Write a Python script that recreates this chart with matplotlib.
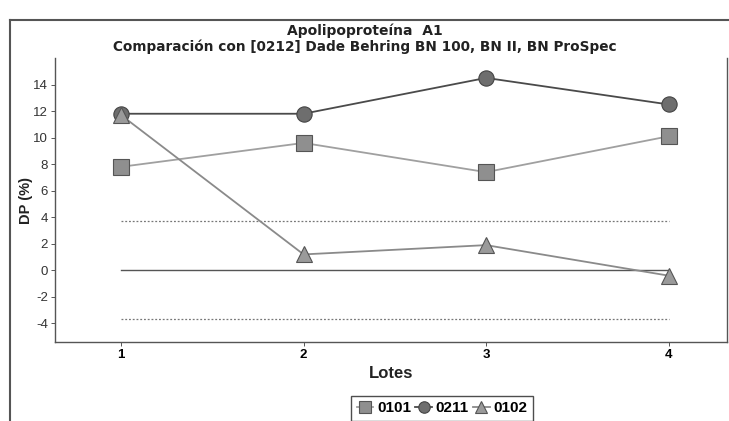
import matplotlib.pyplot as plt
from matplotlib.lines import Line2D

plt.rcParams["font.family"] = ["Liberation Sans", "DejaVu Sans"]

lotes = [1, 2, 3, 4]
dp_0101 = [7.8, 9.6, 7.4, 10.1]
dp_0211 = [11.8, 11.8, 14.5, 12.5]
dp_0102 = [11.7, 1.2, 1.9, -0.4]
limite = 3.7
yticks = [-4, -2, 0, 2, 4, 6, 8, 10, 12, 14]

fig = plt.figure(figsize=(7.29, 4.21), dpi=100)
ax = fig.add_axes([55 / 729, 1 - 342 / 421, 672 / 729, 284 / 421])

# reference lines
ax.plot([1, 4], [0, 0], color="#555555", lw=1.0, zorder=1)
ax.plot([1, 4], [limite, limite], color="#777777", lw=0.9, ls=(0, (1.5, 1.5)), zorder=1)
ax.plot([1, 4], [-limite, -limite], color="#777777", lw=0.9, ls=(0, (1.5, 1.5)), zorder=1)

ax.plot(lotes, dp_0101, color="#a0a0a0", lw=1.3, marker="s", ms=11,
        mfc="#8f8f8f", mec="#555555", mew=0.8, zorder=3, label="0101")
ax.plot(lotes, dp_0211, color="#4a4a4a", lw=1.3, marker="o", ms=11,
        mfc="#6e6e6e", mec="#444444", mew=0.8, zorder=4, label="0211")
ax.plot(lotes, dp_0102, color="#8a8a8a", lw=1.3, marker="^", ms=12,
        mfc="#9a9a9a", mec="#555555", mew=0.8, zorder=5, label="0102")

ax.set_xlim(0.638, 4.32)
ax.set_ylim(-5.4, 16.0)
ax.set_xticks(lotes)
ax.set_xticklabels([str(v) for v in lotes], fontweight="bold", fontsize=9.5)
ax.set_yticks(yticks)
ax.set_yticklabels([str(v) for v in yticks], fontsize=9.5, color="#333333")
ax.tick_params(axis="both", length=3, width=0.7, color="#555555", pad=2)

ax.spines["top"].set_visible(False)
for side in ["left", "bottom", "right"]:
    ax.spines[side].set_color("#555555")
    ax.spines[side].set_linewidth(1.0)

ax.set_xlabel("Lotes", fontsize=12, fontweight="bold", color="#222222", labelpad=4)
ax.set_ylabel("DP (%)", fontsize=10.5, fontweight="bold", color="#222222", labelpad=0)

fig.text(0.5, 1 - 31 / 421, "Apolipoproteína  A1", ha="center", va="center",
         fontsize=10, fontweight="bold", color="#222222", family="DejaVu Sans")
fig.text(0.5, 1 - 47 / 421, "Comparación con [0212] Dade Behring BN 100, BN II, BN ProSpec",
         ha="center", va="center", fontsize=9.8, fontweight="bold", color="#222222",
         family="DejaVu Sans")

# outer frame
fig.add_artist(Line2D([10 / 729, 10 / 729], [0, 1 - 20 / 421], transform=fig.transFigure,
                      color="#555555", lw=1.5))
fig.add_artist(Line2D([10 / 729, 1], [1 - 20 / 421, 1 - 20 / 421], transform=fig.transFigure,
                      color="#555555", lw=1.5))

leg = fig.legend(loc="upper center", bbox_to_anchor=(442 / 729, 1 - 396 / 421), ncol=3,
                 frameon=True, fancybox=False, edgecolor="#222222",
                 handlelength=1.1, handletextpad=0.25, columnspacing=0.25,
                 borderpad=0.35, borderaxespad=0, markerscale=0.75,
                 prop={"weight": "bold", "size": 11})
leg.get_frame().set_linewidth(1.0)

fig.savefig("out.png", dpi=100)
